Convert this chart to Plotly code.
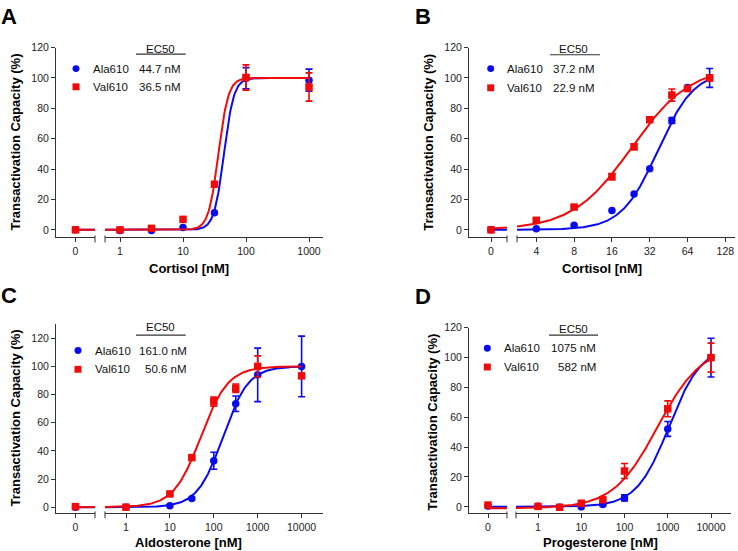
import numpy as np
import plotly.graph_objects as go

W, H = 738, 551

# ------------------------------------------------------------------ data
A_conc = [0, 1, 3.16, 10, 31.6, 100, 1000]
A_ala = [0, -0.5, -0.5, 1.5, 11.3, 99.8, 98.5]
A_ala_err = [None, None, None, None, None, 7.0, 7.3]
A_val = [0, 0, 1.0, 6.9, 30.0, 100.3, 94.0]
A_val_err = [None, None, None, None, None, 8.3, 9.3]
A_ec50_text = ["44.7 nM", "36.5 nM"]
A_fit = [dict(ec50=44.7, n=5.5, top=100, bottom=0), dict(ec50=36.5, n=5.5, top=100, bottom=0)]
A_ticks = [1, 10, 100, 1000]
A_ticktext = ["1", "10", "100", "1000"]

B_conc = [0, 4, 8, 16, 24, 32, 48, 64, 96]
B_ala = [0, 0.8, 3.0, 12.8, 23.6, 40.3, 72.0, 93.7, 100]
B_ala_err = [None, None, None, None, None, None, 2.0, None, 6.2]
B_val = [0, 6.3, 15.0, 35.0, 54.7, 72.5, 88.7, 93.0, 100]
B_val_err = [None, 1.0, 0.8, 2.0, 2.0, 1.0, 4.0, None, 2.0]
B_ec50_text = ["37.2 nM", "22.9 nM"]
B_fit = [dict(ec50=37.2, n=3.0, top=105, bottom=0), dict(ec50=22.9, n=1.85, top=108, bottom=0)]
B_ticks = [4, 8, 16, 32, 64, 128]
B_ticktext = ["4", "8", "16", "32", "64", "128"]

C_conc = [0, 1, 10, 31.6, 100, 316, 1000, 10000]
C_ala = [0, 0, 1.0, 6.1, 33.0, 73.5, 94.0, 100]
C_ala_err = [None, None, None, None, 6.0, 5.5, 19.0, 21.5]
C_val = [0.4, 0, 9.4, 35.2, 75.0, 84.5, 100, 93.3]
C_val_err = [None, None, 1.0, 1.0, 3.2, 3.0, 7.5, None]
C_ec50_text = ["161.0 nM", "50.6 nM"]
C_fit = [dict(ec50=161.0, n=1.5, top=100, bottom=0), dict(ec50=50.6, n=1.4, top=100, bottom=0)]
C_ticks = [1, 10, 100, 1000, 10000]
C_ticktext = ["1", "10", "100", "1000", "10000"]

D_conc = [0, 1, 3.16, 10, 31.6, 100, 1000, 10000]
D_ala = [0.5, 0.4, -0.3, 0, 1.5, 6.0, 52.2, 100]
D_ala_err = [None, None, None, None, 0.8, 2.0, 5.0, 13.0]
D_val = [1.2, 0.3, -0.3, 2.4, 4.8, 24.0, 65.7, 100]
D_val_err = [None, None, None, None, None, 5.0, 5.3, 9.7]
D_ec50_text = ["1075 nM", "582 nM"]
D_fit = [dict(ec50=1075, n=1.15, top=108, bottom=0), dict(ec50=582, n=0.85, top=108, bottom=-1)]
D_ticks = [1, 10, 100, 1000, 10000]
D_ticktext = ["1", "10", "100", "1000", "10000"]

series_names = ["Ala610", "Val610"]
y_ticks = [0, 20, 40, 60, 80, 100, 120]

# ------------------------------------------------------------------ layout (pixels)
BLUE = "#0a0af0"
RED = "#f00a0a"
AX = "#333333"
FONT = "Arial, Liberation Sans, Helvetica, sans-serif"

panels = [
    dict(letter="A", letter_xy=(8.5, 11), xlabel="Cortisol [nM]", conc=A_conc,
         ys=[A_ala, A_val], errs=[A_ala_err, A_val_err], fits=A_fit, ectext=A_ec50_text,
         ticks=A_ticks, ticktext=A_ticktext,
         ytop=42, ybot=234, yrange=[-5.0, 120], zero=(56, 95), z0=75.5, logseg=(105, 323),
         ref=(1, 120), ppd=63, xlab_xy=(189, 265), ylab_xy=(15, 138),
         ec_xy=(160, 43), ul=(136, 185.7, 48.7), mk=(76, 63.3, 81.7), txt_x=90.7, val_x=182.7),
    dict(letter="B", letter_xy=(422.5, 11), xlabel="Cortisol [nM]", conc=B_conc,
         ys=[B_ala, B_val], errs=[B_ala_err, B_val_err], fits=B_fit, ectext=B_ec50_text,
         ticks=B_ticks, ticktext=B_ticktext,
         ytop=42, ybot=234, yrange=[-5.0, 120], zero=(469, 507), z0=491, logseg=(517, 735),
         ref=(4, 536.3), ppd=125.6, xlab_xy=(602, 265), ylab_xy=(428.3, 138),
         ec_xy=(573.3, 43.3), ul=(550, 600, 49.3), mk=(490.7, 63.3, 82.7), txt_x=505, val_x=596.7),
    dict(letter="C", letter_xy=(8.5, 292.5), xlabel="Aldosterone [nM]", conc=C_conc,
         ys=[C_ala, C_val], errs=[C_ala_err, C_val_err], fits=C_fit, ectext=C_ec50_text,
         ticks=C_ticks, ticktext=C_ticktext,
         ytop=321.7, ybot=513, yrange=[-4.43, 130], zero=(56, 95), z0=75.5, logseg=(105, 323),
         ref=(1, 126), ppd=43.9, xlab_xy=(188, 542.7), ylab_xy=(15, 417),
         ec_xy=(160, 325), ul=(136, 185.7, 332.7), mk=(78, 348.3, 367.3), txt_x=92.7, val_x=189),
    dict(letter="D", letter_xy=(423, 294), xlabel="Progesterone [nM]", conc=D_conc,
         ys=[D_ala, D_val], errs=[D_ala_err, D_val_err], fits=D_fit, ectext=D_ec50_text,
         ticks=D_ticks, ticktext=D_ticktext,
         ytop=325.3, ybot=513, yrange=[-4.4, 120], zero=(469, 507), z0=488, logseg=(516, 731),
         ref=(1, 538), ppd=43.25, xlab_xy=(600, 542.7), ylab_xy=(432.3, 421),
         ec_xy=(573, 326.7), ul=(549, 598, 332.7), mk=(487.3, 346, 365), txt_x=501.7, val_x=598.3),
]


def px(x):
    return x / W


def py(y):
    return 1 - y / H


def hill(c, p):
    c = np.asarray(c, dtype=float)
    return p["bottom"] + (p["top"] - p["bottom"]) / (1 + (p["ec50"] / c) ** p["n"])


fig = go.Figure()
layout = dict(width=W, height=H, margin=dict(l=0, r=0, t=0, b=0),
              paper_bgcolor="white", plot_bgcolor="white", showlegend=False,
              font=dict(family=FONT, color="#222222"))
annotations = []
shapes = []
colors = [BLUE, RED]
symbols = ["circle", "square"]

for i, P in enumerate(panels):
    xz = f"x{2*i+1}"
    xl = f"x{2*i+2}"
    yy = f"y{i+1}"
    Z0, Z1 = P["zero"]
    L0, L1 = P["logseg"]
    f = (P["z0"] - Z0) / (Z1 - Z0)
    zrange = [-f, 1 - f]
    ref_val, ref_px = P["ref"]
    ppd = P["ppd"]
    lr0 = np.log10(ref_val) + (L0 - ref_px) / ppd
    lr1 = np.log10(ref_val) + (L1 - ref_px) / ppd

    axis_common = dict(showgrid=False, zeroline=False, showline=True, linecolor=AX, linewidth=1,
                       ticks="outside", ticklen=4, tickwidth=1, tickcolor=AX,
                       tickfont=dict(size=10.5, family=FONT, color="#222222"))
    layout[f"xaxis{2*i+1}"] = dict(domain=[px(Z0), px(Z1)], range=zrange, anchor=yy,
                                   tickvals=[0], ticktext=["0"], **axis_common)
    layout[f"xaxis{2*i+2}"] = dict(domain=[px(L0), px(L1)], type="log", range=[lr0, lr1], anchor=yy,
                                   tickvals=P["ticks"], ticktext=P["ticktext"], **axis_common)
    layout[f"yaxis{i+1}"] = dict(domain=[py(P["ybot"]), py(P["ytop"])], range=P["yrange"], anchor=xz,
                                 tickvals=y_ticks, ticktext=[str(v) for v in y_ticks], **axis_common)

    # axis break marks
    for xb in (Z1, L0):
        shapes.append(dict(type="line", xref="paper", yref="paper",
                           x0=px(xb), x1=px(xb), y0=py(P["ybot"] - 2), y1=py(P["ybot"] + 5),
                           line=dict(color=AX, width=1)))

    conc = np.array(P["conc"], dtype=float)
    zmask = conc == 0
    for s in range(2):
        yv = np.array(P["ys"][s], dtype=float)
        ev = np.array([np.nan if e is None else e for e in P["errs"][s]], dtype=float)
        fit = P["fits"][s]
        col = colors[s]
        # fitted curve - zero segment (continuation of the log scale)
        u = np.linspace(0, zrange[1], 30)
        pix = P["z0"] + u * (Z1 - Z0)
        cz = 10 ** (np.log10(ref_val) + (pix - ref_px) / ppd)
        fig.add_trace(go.Scatter(x=u, y=hill(cz, fit), mode="lines", xaxis=xz, yaxis=yy,
                                 line=dict(color=col, width=2), hoverinfo="skip"))
        # fitted curve - log segment
        cl = np.logspace(lr0, np.log10(conc.max()), 300)
        fig.add_trace(go.Scatter(x=cl, y=hill(cl, fit), mode="lines", xaxis=xl, yaxis=yy,
                                 line=dict(color=col, width=2), hoverinfo="skip"))
        # data points
        for mask, xa in ((zmask, xz), (~zmask, xl)):
            fig.add_trace(go.Scatter(
                x=conc[mask], y=yv[mask], mode="markers", xaxis=xa, yaxis=yy, cliponaxis=False,
                marker=dict(symbol=symbols[s], size=7.5, color=col, line=dict(width=0)),
                error_y=dict(type="data", array=ev[mask], visible=True, color=col,
                             thickness=1.6, width=3.5)))

    # panel letter
    annotations.append(dict(text=f"<b>{P['letter']}</b>", x=px(P["letter_xy"][0]), y=py(P["letter_xy"][1]),
                            xref="paper", yref="paper", showarrow=False, xanchor="center", yanchor="middle",
                            font=dict(size=22, family=FONT, color="black")))
    # axis titles
    annotations.append(dict(text=f"<b>{P['xlabel']}</b>", x=px(P["xlab_xy"][0]), y=py(P["xlab_xy"][1]),
                            xref="paper", yref="paper", showarrow=False, xanchor="center", yanchor="middle",
                            font=dict(size=13, family=FONT, color="black")))
    annotations.append(dict(text="<b>Transactivation Capacity (%)</b>", x=px(P["ylab_xy"][0]),
                            y=py(P["ylab_xy"][1]), xref="paper", yref="paper", showarrow=False,
                            textangle=-90, xanchor="center", yanchor="middle",
                            font=dict(size=13, family=FONT, color="black")))
    # EC50 legend
    annotations.append(dict(text="EC50", x=px(P["ec_xy"][0]), y=py(P["ec_xy"][1]), xref="paper", yref="paper",
                            showarrow=False, xanchor="center", yanchor="middle",
                            font=dict(size=11.5, family=FONT, color="#111111")))
    ux0, ux1, uy = P["ul"]
    shapes.append(dict(type="line", xref="paper", yref="paper", x0=px(ux0), x1=px(ux1), y0=py(uy), y1=py(uy),
                       line=dict(color=AX, width=1.2)))
    mx, my0, my1 = P["mk"]
    r = 3.5
    shapes.append(dict(type="circle", xref="paper", yref="paper", x0=px(mx - r), x1=px(mx + r),
                       y0=py(my0 + r), y1=py(my0 - r), fillcolor=BLUE, line=dict(width=0)))
    shapes.append(dict(type="rect", xref="paper", yref="paper", x0=px(mx - r), x1=px(mx + r),
                       y0=py(my1 + r), y1=py(my1 - r), fillcolor=RED, line=dict(width=0)))
    for s, yrow in enumerate((my0, my1)):
        annotations.append(dict(text=series_names[s], x=px(P["txt_x"]), y=py(yrow), xref="paper", yref="paper",
                                showarrow=False, xanchor="left", yanchor="middle",
                                font=dict(size=11.5, family=FONT, color="#111111")))
        annotations.append(dict(text=P["ectext"][s], x=px(P["val_x"]), y=py(yrow), xref="paper", yref="paper",
                                showarrow=False, xanchor="right", yanchor="middle",
                                font=dict(size=11.5, family=FONT, color="#111111")))

layout["annotations"] = annotations
layout["shapes"] = shapes
fig.update_layout(**layout)

pin_to_corner = (
    "document.documentElement.style.margin='0';"
    "document.body.style.margin='0';document.body.style.padding='0';"
    "var gd=document.getElementById('{plot_id}');"
    "gd.style.position='absolute';gd.style.left='0px';gd.style.top='0px';"
)
fig.write_html("out.html", post_script=pin_to_corner, config={"displayModeBar": False})
